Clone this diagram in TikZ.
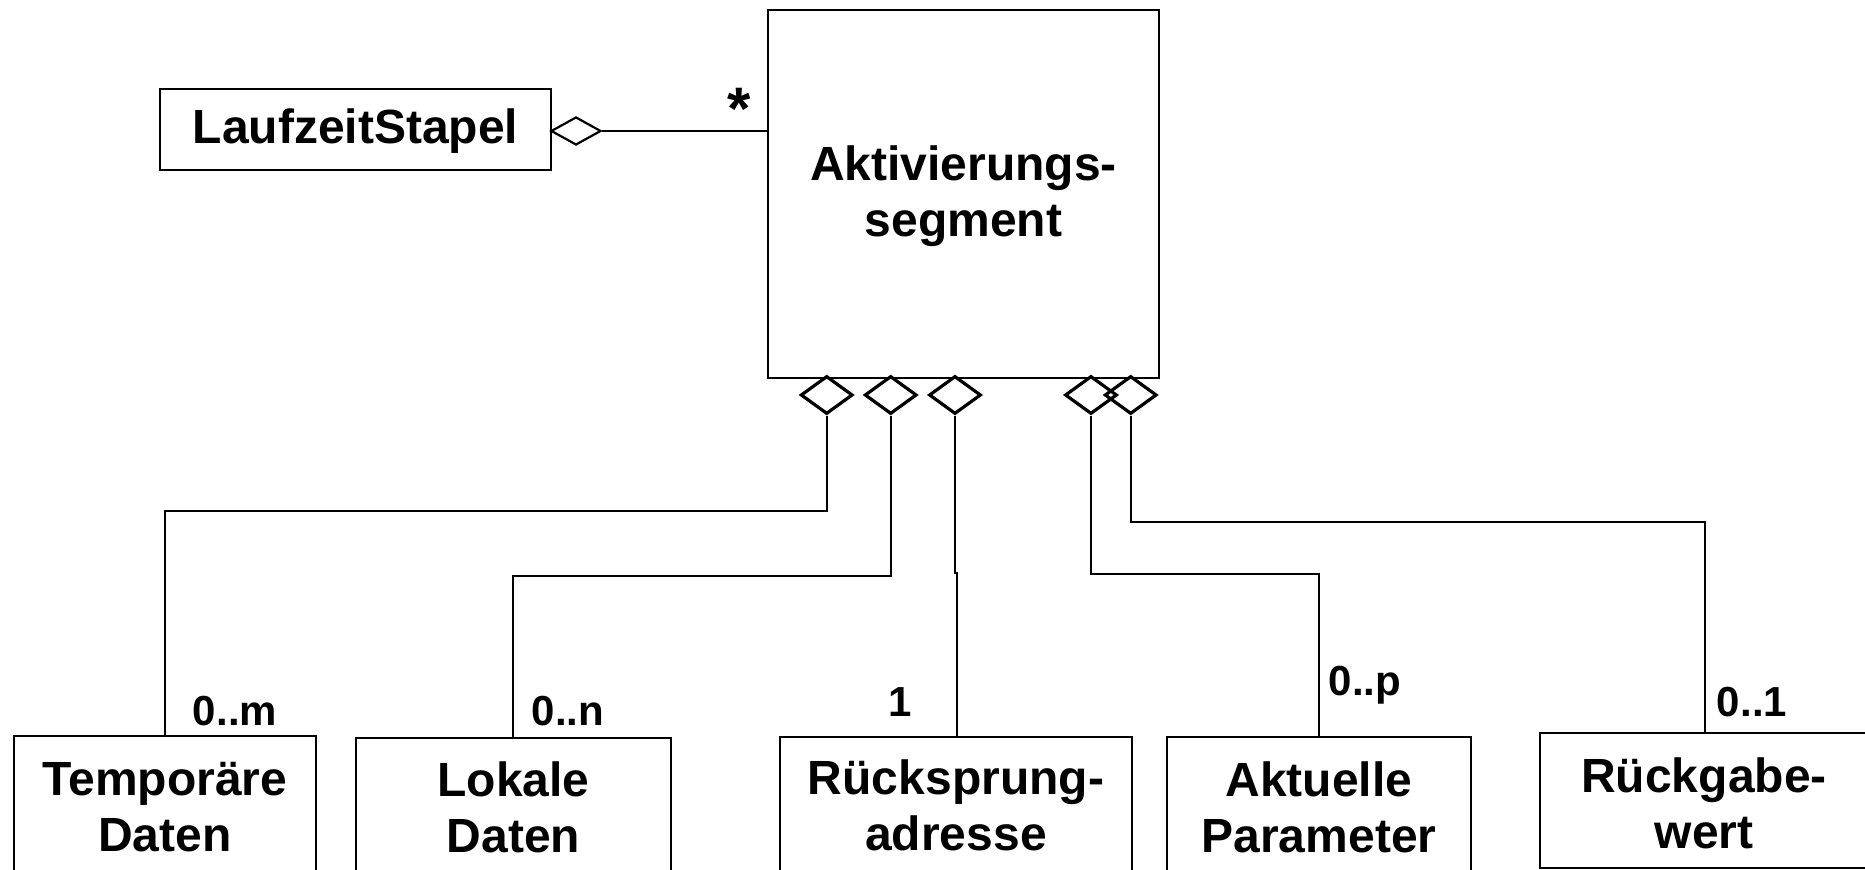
\documentclass[tikz,border=0pt]{standalone}
\usepackage{fontspec}
\setmainfont{Liberation Sans}
\usetikzlibrary{shapes.geometric}
\begin{document}
\begin{tikzpicture}[x=0.5pt,y=-0.5pt,
  classbox/.style={draw,line width=1.1pt,inner sep=0pt},
  classtext/.style={inner sep=0pt,align=center,font=\fontsize{24}{28}\selectfont\bfseries},
  mult/.style={inner sep=0pt,font=\fontsize{21}{24}\selectfont\bfseries},
  agg/.style={draw,diamond,line width=1.6pt,inner sep=0pt,minimum width=26pt,minimum height=19pt},
  aggsmall/.style={draw,diamond,line width=1.1pt,inner sep=0pt,minimum width=25pt,minimum height=14pt},
  link/.style={line width=1pt},
]
\useasboundingbox (0,0) rectangle (1865,870);
\clip (0,0) rectangle (1865,870);

% classes
\node[classbox,minimum width=195.5pt,minimum height=40.5pt] (stack) at (355.5,129.5) {};
\node[classtext] (stacktext) at (355.5,131) {LaufzeitStapel};
\node[classbox,minimum width=195.5pt,minimum height=184pt] (seg) at (963.5,194) {};
\node[classtext] (segtext) at (963.5,196.5) {Aktivierungs-\\segment};

\node[classbox,minimum width=151pt,minimum height=82pt] (tmp) at (165,818) {};
\node[classtext] (tmptext) at (165,807) {Temporäre\\Daten};
\node[classbox,minimum width=157.5pt,minimum height=81pt] (loc) at (513.5,819) {};
\node[classtext] (loctext) at (513.5,807) {Lokale\\Daten};
\node[classbox,minimum width=176pt,minimum height=81.5pt] (ret) at (956,818.5) {};
\node[classtext] (rettext) at (956,805) {Rücksprung-\\adresse};
\node[classbox,minimum width=152pt,minimum height=81.5pt] (par) at (1319,818.5) {};
\node[classtext] (partext) at (1319,807) {Aktuelle\\Parameter};
\node[classbox,minimum width=170pt,minimum height=67.5pt] (val) at (1710,800.5) {};
\node[classtext] (valtext) at (1704,803) {Rückgabe-\\wert};

% aggregation diamonds
\node[aggsmall] (dstack) at (576,131) {};
\node[agg] (d1) at (826.7,395) {};
\node[agg] (d2) at (890.7,395) {};
\node[agg] (d3) at (955,395) {};
\node[agg] (d4) at (1091,395) {};
\node[agg] (d5) at (1130.7,395) {};

% bends of the connectors
\coordinate (b1) at (165,511);
\coordinate (b2) at (512.5,576);
\coordinate (b3) at (957,573);
\coordinate (b4) at (1318.9,574.5);
\coordinate (b5) at (1705,522);

% connectors
\draw[line width=0.85pt] (dstack.east) -- (dstack.east -| seg.west);
\draw[link] (d1.south) |- (b1) -- (b1 |- tmp.north);
\draw[link] (d2.south) |- (b2) -- (b2 |- loc.north);
\draw[link] (d3.south) -- (d3.south |- b3) -- (b3) -- (b3 |- ret.north);
\draw[link] (d4.south) |- (b4) -- (b4 |- par.north);
\draw[link] (d5.south) |- (b5) -- (b5 |- val.north);

% multiplicities
\node[inner sep=0pt,font=\fontsize{30}{32}\selectfont\bfseries] (mstar) at (739,109) {*};
\node[mult] (mtmp) at (235,711) {0..m};
\node[mult] (mloc) at (568,711) {0..n};
\node[mult] (mret) at (900,702) {1};
\node[mult] (mpar) at (1365,685) {0..p};
\node[mult] (mval) at (1752,702) {0..1};
\end{tikzpicture}
\end{document}
